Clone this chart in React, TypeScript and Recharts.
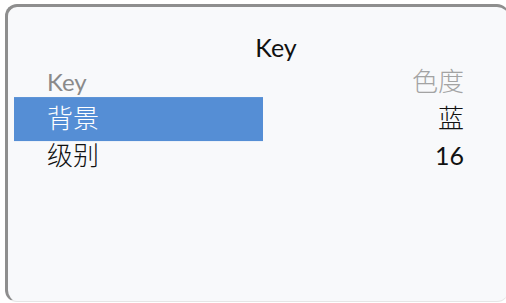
import React from 'react';
import { BarChart, Bar, XAxis, YAxis, Customized } from 'recharts';

const chartTitle = 'Key';
const headerLabels = ['Key', '色度'];
const rowKeys = ['背景', '级别'];
const rowValues = ['蓝', '16'];
const selectedKey = '背景';

const data = [
  { k: headerLabels[0], v: headerLabels[1], sel: 0, header: true },
  ...rowKeys.map((k, i) => ({ k, v: rowValues[i], sel: k === selectedKey ? 1 : 0, header: false })),
];

const LATIN = 'Lato, "Noto Sans CJK SC", sans-serif';
const CJK = '"Noto Sans CJK SC", Lato, sans-serif';
const isLatin = (s: string) => /^[0-9A-Za-z]/.test(s);

const renderTick = (props: any) => {
  const { y, payload } = props;
  const row = data.find((d) => d.k === payload.value);
  if (!row) return <g />;
  const isSel = row.sel === 1;
  const leftFill = row.header ? '#8a8a8a' : isSel ? '#ffffff' : '#111111';
  const rightFill = row.header ? '#a3a3a3' : '#111111';
  const lLatin = isLatin(row.k);
  const rLatin = isLatin(row.v);
  return (
    <g>
      <text x={47} y={y} dy={9} textAnchor="start" fill={leftFill}
        style={{ fontFamily: lLatin ? LATIN : CJK, fontSize: lLatin ? 24 : 26, fontWeight: lLatin ? 400 : 300 }}>
        {row.k}
      </text>
      <text x={464} y={y} dy={9} textAnchor="end" fill={rightFill}
        style={{ fontFamily: rLatin ? LATIN : CJK, fontSize: rLatin ? 25 : 26, fontWeight: rLatin ? 400 : 300 }}>
        {row.v}
      </text>
    </g>
  );
};

const HighlightShape = (props: any) => {
  const { x, y, width, height, fill } = props;
  if (!width || width <= 0) return <g />;
  const cy = y + height / 2;
  return <rect x={x} y={cy - 22} width={width} height={44} fill={fill} />;
};

export default function App() {
  return (
    <div style={{ position: 'absolute', left: 0, top: 0, width: 506, height: 303, background: '#ffffff', overflow: 'hidden' }}>
      <div
        style={{
          position: 'absolute',
          left: 5,
          top: 4,
          width: 504,
          height: 298,
          background: '#f8f9fb',
          borderRadius: 12,
          borderLeft: '3px solid #8e8e8e',
          borderTop: '3px solid #8e8e8e',
          borderRight: '1px solid #f0f0f0',
          borderBottom: '1px solid #e6e6e6',
          boxSizing: 'border-box',
        }}
      />
      <div style={{ position: 'absolute', left: 0, top: 0 }}>
        <BarChart
          width={506}
          height={303}
          data={data}
          layout="vertical"
          margin={{ top: 63, bottom: 128, left: 13, right: 243 }}
        >
          <XAxis type="number" domain={[0, 1]} hide />
          <YAxis
            type="category"
            dataKey="k"
            width={1}
            axisLine={false}
            tickLine={false}
            interval={0}
            tick={renderTick}
          />
          <Bar dataKey="sel" fill="#558ed5" isAnimationActive={false} shape={HighlightShape} />
          <Customized
            component={() => (
              <text x={276} y={57} textAnchor="middle" fill="#111111"
                style={{ fontFamily: LATIN, fontSize: 25 }}>
                {chartTitle}
              </text>
            )}
          />
        </BarChart>
      </div>
    </div>
  );
}
